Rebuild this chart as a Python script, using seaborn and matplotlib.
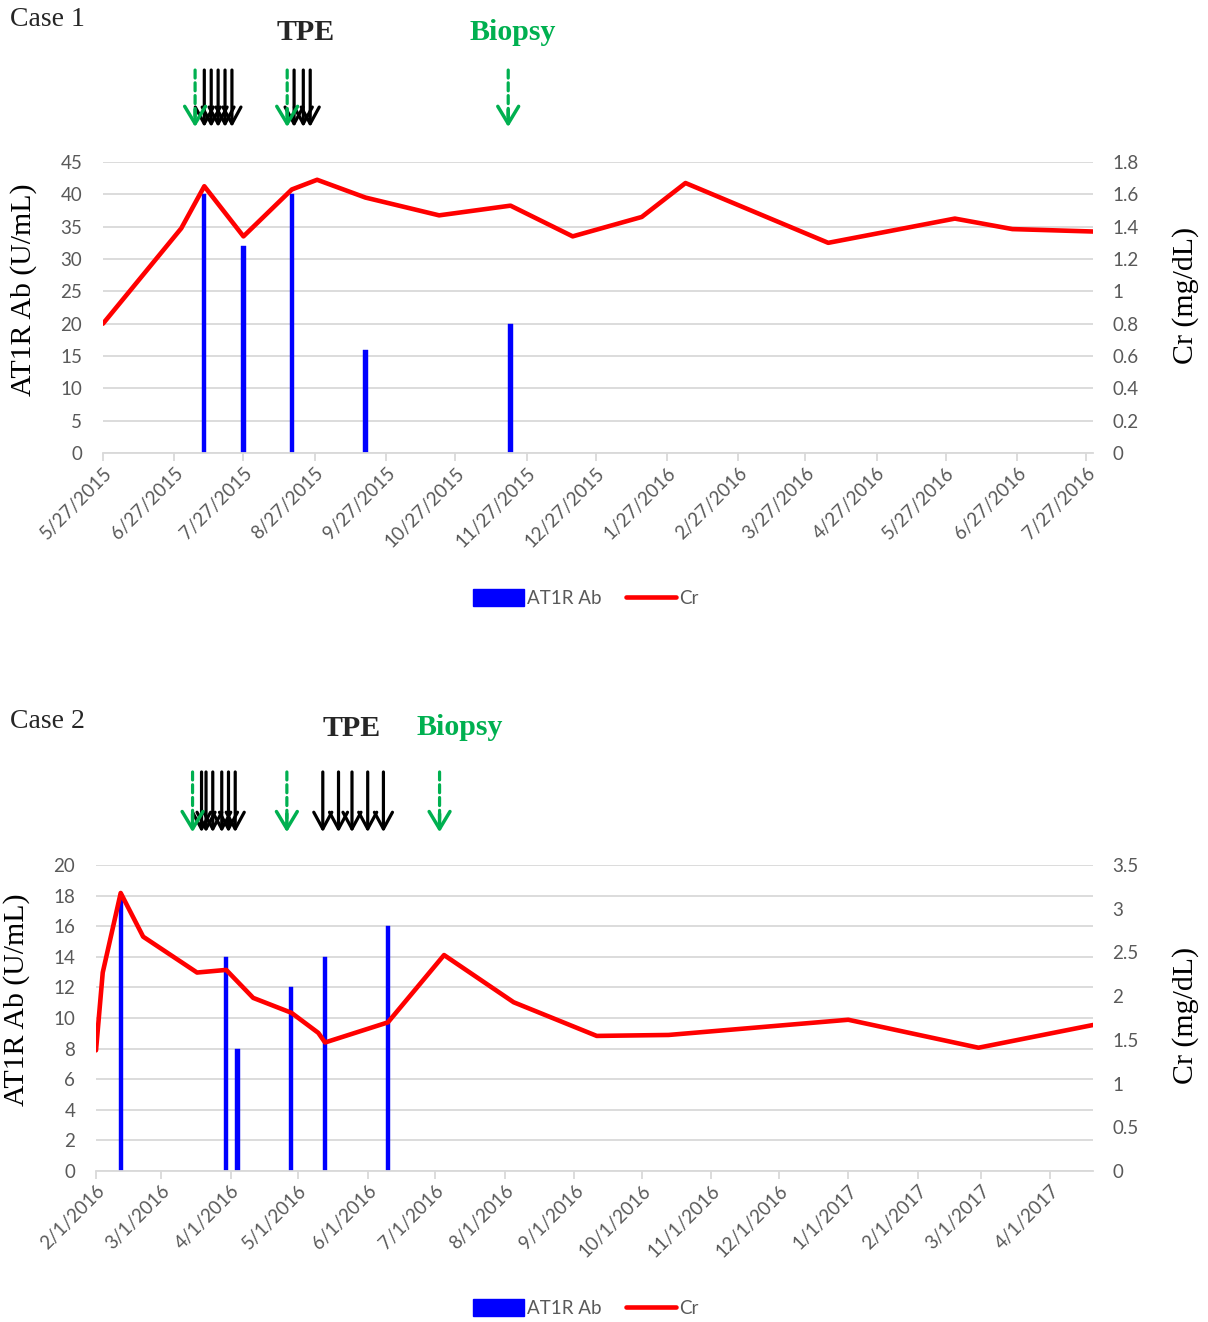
import matplotlib
matplotlib.use("Agg")
import matplotlib.pyplot as plt
import matplotlib.dates as mdates
from matplotlib.lines import Line2D
from matplotlib.patches import Patch
from matplotlib.ticker import FuncFormatter, MultipleLocator
import pandas as pd
import seaborn as sns

# ---- Case 1 data ----
case1_ab_dates = ["2015-07-10", "2015-07-27", "2015-08-17", "2015-09-18", "2015-11-20"]
case1_ab_values = [40, 32, 40, 16, 20]
case1_cr_dates = ["2015-05-27", "2015-06-30", "2015-07-10", "2015-07-27", "2015-08-17",
                  "2015-08-28", "2015-09-18", "2015-10-20", "2015-11-20", "2015-12-17",
                  "2016-01-16", "2016-02-04", "2016-04-06", "2016-05-31", "2016-06-25",
                  "2016-07-30"]
case1_cr_values = [0.80, 1.39, 1.65, 1.34, 1.63, 1.69, 1.58, 1.47, 1.53, 1.34,
                   1.46, 1.67, 1.30, 1.45, 1.385, 1.37]
case1_tpe_dates = ["2015-07-10", "2015-07-13", "2015-07-16", "2015-07-19", "2015-07-22",
                   "2015-08-18", "2015-08-22", "2015-08-25"]
case1_green_dates = ["2015-07-06", "2015-08-15", "2015-11-19"]
case1_xlim = ["2015-05-27", "2016-07-30"]

# ---- Case 2 data ----
case2_ab_dates = ["2016-02-12", "2016-03-30", "2016-04-04", "2016-04-28", "2016-05-13", "2016-06-10"]
case2_ab_values = [18, 14, 8, 12, 14, 16]
case2_cr_dates = ["2016-02-01", "2016-02-04", "2016-02-12", "2016-02-22", "2016-03-17",
                  "2016-03-30", "2016-04-11", "2016-04-28", "2016-05-10", "2016-05-13",
                  "2016-06-10", "2016-07-05", "2016-08-05", "2016-09-11", "2016-10-13",
                  "2017-01-01", "2017-02-28", "2017-04-20"]
case2_cr_values = [1.38, 2.27, 3.18, 2.68, 2.27, 2.30, 1.98, 1.81, 1.58, 1.47,
                   1.70, 2.47, 1.93, 1.545, 1.556, 1.73, 1.41, 1.67]
case2_tpe_dates = ["2016-03-19", "2016-03-21", "2016-03-24", "2016-03-28", "2016-03-31",
                   "2016-04-03", "2016-05-12", "2016-05-19", "2016-05-25", "2016-06-01",
                   "2016-06-08"]
case2_green_dates = ["2016-03-15", "2016-04-26", "2016-07-03"]
case2_xlim = ["2016-02-01", "2017-04-20"]

GRAY_TXT = "#595959"
GRID = "#d9d9d9"
GREEN = "#00b050"
SERIF = ["Liberation Serif", "DejaVu Serif"]
SANS = ["Lato", "DejaVu Sans"]

sns.set_theme(style="white")
plt.rcParams["font.family"] = SANS


def date_fmt(x, pos=None):
    d = mdates.num2date(x)
    return f"{d.month}/{d.day}/{d.year}"


def draw_arrows(ax, tpe_dates, green_dates, y_top, y_bot):
    trans = ax.get_xaxis_transform()
    for d in pd.to_datetime(tpe_dates):
        x = mdates.date2num(d)
        ax.annotate("", xy=(x, y_bot), xytext=(x, y_top), xycoords=trans, textcoords=trans,
                    annotation_clip=False,
                    arrowprops=dict(arrowstyle="->,head_length=1.2,head_width=0.65",
                                    color="black", lw=2.3, mutation_scale=10,
                                    shrinkA=0, shrinkB=0))
    for d in pd.to_datetime(green_dates):
        x = mdates.date2num(d)
        ax.annotate("", xy=(x, y_bot + 0.02), xytext=(x, y_top), xycoords=trans, textcoords=trans,
                    annotation_clip=False,
                    arrowprops=dict(arrowstyle="-", color=GREEN, lw=2.3, linestyle=(0, (2.5, 1.5)),
                                    shrinkA=0, shrinkB=0))
        ax.annotate("", xy=(x, y_bot), xytext=(x, y_bot + 0.06), xycoords=trans, textcoords=trans,
                    annotation_clip=False,
                    arrowprops=dict(arrowstyle="->,head_length=1.25,head_width=0.75",
                                    color=GREEN, lw=2.5, mutation_scale=10,
                                    shrinkA=0, shrinkB=0))


def draw_panel(fig, rect, ab_dates, ab_values, cr_dates, cr_values, xlim, locator,
               ymax_left, ystep_left, ymax_right, ystep_right, bar_width):
    ax = fig.add_axes(rect)
    ax.bar(pd.to_datetime(ab_dates), ab_values, width=bar_width, color="#0000ff",
           edgecolor="#0000ff", linewidth=0.3, zorder=2)
    ax.set_ylim(0, ymax_left)
    ax.yaxis.set_major_locator(MultipleLocator(ystep_left))
    ax.grid(axis="y", color=GRID, lw=1.3, zorder=0)
    ax.grid(axis="x", visible=False)
    ax.set_axisbelow(True)
    for s in ["top", "right", "left"]:
        ax.spines[s].set_visible(False)
    ax.spines["bottom"].set_color(GRID)
    ax.spines["bottom"].set_linewidth(1.3)

    ax2 = ax.twinx()
    cr = pd.DataFrame({"date": pd.to_datetime(cr_dates), "cr": cr_values})
    sns.lineplot(data=cr, x="date", y="cr", ax=ax2, color="#ff0000", lw=3.3, zorder=3)
    ax2.set_ylim(0, ymax_right)
    ax2.yaxis.set_major_locator(MultipleLocator(ystep_right))
    ax2.yaxis.set_major_formatter(FuncFormatter(lambda v, p: f"{v:g}"))
    for s in ["top", "right", "left", "bottom"]:
        ax2.spines[s].set_visible(False)
    ax2.grid(False)
    ax2.set_xlabel("")

    ax.set_xlim(pd.to_datetime(xlim[0]), pd.to_datetime(xlim[1]))
    ax.xaxis.set_major_locator(locator)
    ax.xaxis.set_major_formatter(FuncFormatter(date_fmt))
    ax.tick_params(axis="x", bottom=True, length=6, width=1.3, color=GRID, colors=GRAY_TXT,
                   labelsize=13.5, pad=2)
    for lab in ax.get_xticklabels():
        lab.set_rotation(45)
        lab.set_ha("right")
        lab.set_rotation_mode("anchor")
    ax.tick_params(axis="y", left=False, length=0, colors=GRAY_TXT, labelsize=13.5, pad=15)
    ax2.tick_params(axis="y", right=False, length=0, colors=GRAY_TXT, labelsize=13.5, pad=14)
    ax.set_xlabel("")
    return ax, ax2


fig = plt.figure(figsize=(12.08, 13.22), dpi=100)
W, H = 1208, 1322

# ---- Case 1 ----
ax1, ax1r = draw_panel(fig, [103 / W, 1 - 453 / H, 990 / W, 291 / H],
                       case1_ab_dates, case1_ab_values, case1_cr_dates, case1_cr_values,
                       case1_xlim, mdates.MonthLocator(bymonthday=27),
                       45, 5, 1.8, 0.2, 1.8)
ax1.set_ylabel("AT1R Ab (U/mL)", family=SERIF, fontsize=21.5, color="black")
ax1.yaxis.set_label_coords(-0.067, 0.56)
ax1r.set_ylabel("Cr (mg/dL)", family=SERIF, fontsize=21.5, color="black", rotation=90)
ax1r.yaxis.set_label_coords(1.080, 0.543)
draw_arrows(ax1, case1_tpe_dates, case1_green_dates, 1.316, 1.12)

fig.text(10 / W, 1 - 19 / H, "Case 1", family=SERIF, fontsize=20, va="center", ha="left")
fig.text(306 / W, 1 - 32 / H, "TPE", family=SERIF, fontsize=21.5, fontweight="bold",
         va="center", ha="center")
fig.text(513 / W, 1 - 32 / H, "Biopsy", family=SERIF, fontsize=21.5, fontweight="bold",
         color=GREEN, va="center", ha="center")

# ---- Case 2 ----
ax2, ax2r = draw_panel(fig, [96 / W, 1 - 1171 / H, 997 / W, 306 / H],
                       case2_ab_dates, case2_ab_values, case2_cr_dates, case2_cr_values,
                       case2_xlim, mdates.MonthLocator(bymonthday=1),
                       20, 2, 3.5, 0.5, 1.9)
ax2.set_ylabel("AT1R Ab (U/mL)", family=SERIF, fontsize=21.5, color="black")
ax2.yaxis.set_label_coords(-0.066, 0.559)
ax2r.set_ylabel("Cr (mg/dL)", family=SERIF, fontsize=21.5, color="black", rotation=90)
ax2r.yaxis.set_label_coords(1.079, 0.507)
draw_arrows(ax2, case2_tpe_dates, case2_green_dates, 1.304, 1.107)

fig.text(10 / W, 1 - 721 / H, "Case 2", family=SERIF, fontsize=20, va="center", ha="left")
fig.text(352 / W, 1 - 729 / H, "TPE", family=SERIF, fontsize=21.5, fontweight="bold",
         va="center", ha="center")
fig.text(460 / W, 1 - 727 / H, "Biopsy", family=SERIF, fontsize=21.5, fontweight="bold",
         color=GREEN, va="center", ha="center")

# ---- legends ----
handles = [Patch(facecolor="#0000ff", edgecolor="#0000ff", label="AT1R Ab"),
           Line2D([0], [0], color="#ff0000", lw=3.3, label="Cr")]
for yc in (598, 1308):
    fig.legend(handles=handles, loc="center", bbox_to_anchor=(586 / W, 1 - yc / H),
               ncol=2, frameon=False, fontsize=13.5, labelcolor=GRAY_TXT,
               handlelength=2.7, handleheight=1.0, handletextpad=0.15, columnspacing=1.3)

fig.savefig("out.png", dpi=100)
